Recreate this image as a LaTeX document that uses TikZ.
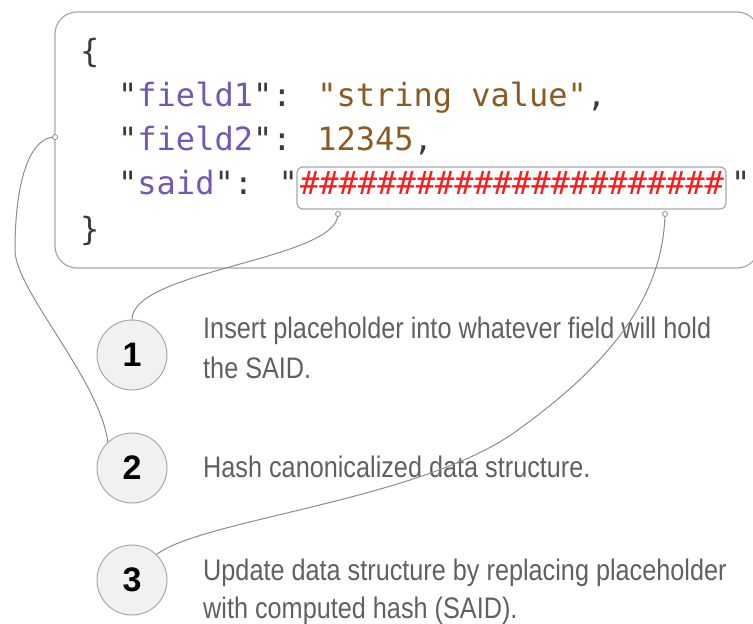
\documentclass[tikz,border=0pt]{standalone}
\usepackage{fontspec}
\newfontfamily\codefont{DejaVu Sans Mono}
\newfontfamily\descfont[FakeStretch=0.85]{Liberation Sans}
\newfontfamily\numfont{Liberation Sans}
\definecolor{keyc}{HTML}{7457B5}
\definecolor{valc}{HTML}{8A5A22}
\definecolor{punc}{HTML}{3A3A3A}
\definecolor{hashc}{HTML}{FF1A1A}
\definecolor{linec}{HTML}{8C8C8C}
\definecolor{boxc}{HTML}{A8A8A8}
\definecolor{descc}{HTML}{606060}
\definecolor{stepfill}{HTML}{F1F1F1}
\tikzset{
  codeline/.style={anchor=base west, inner sep=0pt, font=\codefont\fontsize{32}{38}\selectfont, text=punc},
  desc/.style={anchor=base west, inner sep=0pt, font=\descfont\fontsize{29.7}{40}\selectfont, text=descc},
  stepcircle/.style={circle, draw=boxc, line width=1pt, fill=stepfill, minimum size=70pt, inner sep=0pt, font=\numfont\bfseries\fontsize{34}{34}\selectfont, text=black},
  port/.style={circle, draw=linec, fill=white, line width=0.8pt, minimum size=5pt, inner sep=0pt},
  conn/.style={draw=linec, line width=1pt},
}
\begin{document}
\begin{tikzpicture}[x=1pt, y=-1pt]
\useasboundingbox (0,0) rectangle (753,624);
\clip (0,0) rectangle (753,624);
% outer JSON box
\draw[draw=boxc, line width=1.2pt, rounded corners=22pt] (55,12) rectangle (759,268);
% code lines
\node[codeline] (lb) at (80,62) {\{};
\node[codeline] (l1) at (118,106) {"{\color{keyc}field1}": {\color{valc}"string value"},};
\node[codeline] (l2) at (118,150) {"{\color{keyc}field2}": {\color{valc}12345},};
\node[codeline] (l3) at (118,194) {"{\color{keyc}said}": "};
\draw[draw=boxc, line width=1.2pt, rounded corners=6pt] (297,167) rectangle (726,209);
\node[codeline, text=hashc] (hashes) at (300,194) {\#\#\#\#\#\#\#\#\#\#\#\#\#\#\#\#\#\#\#\#\#\#};
\node[codeline] (q) at (731,194) {"};
\node[codeline] (rb) at (80,240) {\}};
% step circles
\node[stepcircle] (n1) at (132,355) {1};
\node[stepcircle] (n2) at (132,468) {2};
\node[stepcircle] (n3) at (132,580) {3};
% descriptions
\node[desc] (d1a) at (203,338) {Insert placeholder into whatever field will hold};
\node[desc] (d1b) at (203,378) {the SAID.};
\node[desc] (d2) at (203,477) {Hash canonicalized data structure.};
\node[desc] (d3a) at (203,580) {Update data structure by replacing placeholder};
\node[desc] (d3b) at (203,618) {with computed hash (SAID).};
% connectors
\coordinate (j3) at (515,432);
\path[conn] (338,214) .. controls (338,260) and (132,270) .. (n1.north);
\path[conn] (55,137) .. controls (30,137) and (15,180) .. (15,250)
   .. controls (15,290) and (100,380) .. (n2.133);
\path[conn] (665,214) .. controls (663,300) and (605,368) .. (j3)
   .. controls (420,500) and (200,520) .. (n3.46);
\node[port] (p1) at (338,214) {};
\node[port] (p2) at (55,137) {};
\node[port] (p3) at (665,214) {};
\end{tikzpicture}
\end{document}
